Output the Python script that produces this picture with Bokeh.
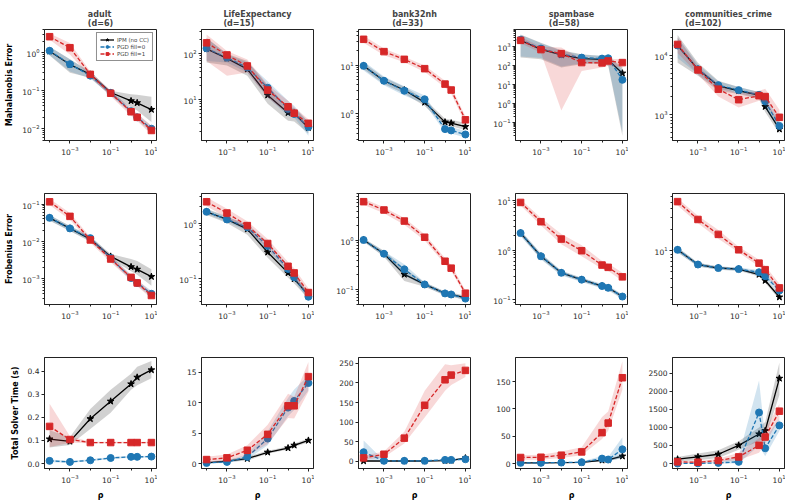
import math
from bokeh.plotting import figure
from bokeh.models import (FixedTicker, PrintfTickFormatter, Range1d, Legend, LegendItem)
from bokeh.layouts import column, row
from bokeh.embed import file_html
from bokeh.resources import INLINE

RHO = [1e-4, 1e-3, 1e-2, 1e-1, 1, 2, 10]
DATASETS = ["adult", "LifeExpectancy", "bank32nh", "spambase", "communities_crime"]
DIMS = [6, 15, 33, 58, 102]
METRIC_LABELS = ["Mahalanobis Error", "Frobenius Error", "Total Solver Time (s)"]
METHOD_LABELS = ["IPM (no CC)", "PGD fill=0", "PGD fill=1"]

# ---------------- Mahalanobis error (per dataset: adult, LifeExp, bank32nh, spambase, communities)
MAHA_IPM = [[1.10, 0.49, 0.27, 0.090, 0.054, 0.048, 0.032],
            [128, 79, 46, 12.4, 5.1, 5.0, 2.4],
            [9.7, 4.8, 3.1, 1.73, 0.68, 0.65, 0.55],
            [2140, 720, 365, 235, 215, 200, 40],
            [14700, 5800, 3040, 2510, 2120, 1350, 560]]
MAHA_IPM_LO = [[0.85, 0.30, 0.22, 0.075, 0.037, 0.030, 0.015],
               [64, 55, 33, 8, 3.4, 3.3, 1.8],
               [8.3, 4.1, 2.6, 1.45, 0.58, 0.56, 0.47],
               [265, 217, 80, 118, 130, 100, 0.02],
               [7500, 4500, 2500, 2200, 1800, 1100, 470]]
MAHA_IPM_HI = [[1.45, 0.68, 0.32, 0.10, 0.081, 0.079, 0.069],
               [222, 100, 69, 20, 6.7, 6.5, 3.2],
               [11.2, 5.6, 3.6, 2.0, 0.80, 0.76, 0.65],
               [4400, 1600, 640, 400, 320, 330, 80],
               [22000, 7500, 3700, 2900, 2400, 1800, 700]]
MAHA_PGD0 = [[1.13, 0.50, 0.25, 0.088, 0.029, 0.020, 0.010],
             [131, 82, 50, 18, 6.2, 4.8, 2.5],
             [9.7, 4.8, 3.0, 2.0, 0.49, 0.46, 0.38],
             [2300, 790, 400, 265, 235, 245, 18],
             [14700, 5800, 3120, 2570, 2140, 1660, 636]]
MAHA_PGD0_LO = [[0.88, 0.32, 0.21, 0.075, 0.025, 0.017, 0.008],
                [69, 64, 39, 11, 4.4, 4.0, 1.6],
                [7.8, 3.9, 2.4, 1.6, 0.42, 0.40, 0.33],
                [300, 250, 90, 130, 150, 120, 0.03],
                [9000, 4800, 2700, 2300, 1900, 1300, 520]]
MAHA_PGD0_HI = [[1.45, 0.68, 0.30, 0.10, 0.034, 0.024, 0.012],
                [222, 97, 64, 25, 9.3, 7.3, 3.2],
                [12, 5.9, 3.7, 2.4, 0.57, 0.54, 0.45],
                [4200, 1500, 600, 380, 330, 350, 60],
                [20000, 7000, 3600, 2900, 2400, 2100, 800]]
MAHA_PGD1 = [[2.65, 1.36, 0.27, 0.086, 0.028, 0.020, 0.009],
             [173, 94, 54, 16, 6.9, 5.0, 3.0],
             [34, 19, 13.2, 8.5, 4.1, 3.1, 0.76],
             [2140, 700, 430, 145, 140, 177, 145],
             [15300, 5660, 2670, 1770, 2070, 2000, 890]]
MAHA_PGD1_LO = [[2.2, 0.9, 0.23, 0.072, 0.022, 0.016, 0.007],
                [69, 33, 39, 11, 4.8, 4.4, 2.2],
                [29, 16, 11.5, 7.3, 3.5, 2.6, 0.64],
                [1500, 485, 0.43, 53, 80, 100, 80],
                [11000, 4800, 2000, 1300, 1700, 1600, 700]]
MAHA_PGD1_HI = [[3.2, 1.8, 0.32, 0.10, 0.034, 0.025, 0.012],
                [263, 115, 75, 21, 9.3, 6.7, 3.7],
                [40, 22, 15, 9.9, 4.8, 3.6, 0.9],
                [3300, 1000, 890, 218, 190, 230, 220],
                [20000, 6500, 3200, 2200, 2500, 2700, 1200]]

# ---------------- Frobenius error
FROB_IPM = [[0.043, 0.0224, 0.0115, 0.0040, 0.0021, 0.0018, 0.00115],
            [1.59, 1.16, 0.78, 0.30, 0.128, 0.10, 0.051],
            [1.03, 0.54, 0.205, 0.128, 0.084, 0.08, 0.068],
            [2.19, 0.75, 0.35, 0.255, 0.19, 0.175, 0.117],
            [10.4, 6.4, 5.7, 5.5, 4.6, 3.77, 2.18]]
FROB_IPM_LO = [[0.036, 0.019, 0.0098, 0.0034, 0.0016, 0.0013, 0.00066],
               [1.4, 1.0, 0.62, 0.24, 0.105, 0.083, 0.044],
               [0.95, 0.47, 0.15, 0.115, 0.076, 0.073, 0.062],
               [1.95, 0.67, 0.32, 0.235, 0.175, 0.16, 0.108],
               [9.6, 6.0, 5.4, 5.2, 4.3, 3.5, 2.0]]
FROB_IPM_HI = [[0.051, 0.026, 0.0135, 0.0046, 0.0034, 0.003, 0.0018],
               [1.8, 1.32, 0.9, 0.36, 0.15, 0.12, 0.058],
               [1.12, 0.62, 0.27, 0.142, 0.092, 0.088, 0.075],
               [2.45, 0.84, 0.38, 0.275, 0.205, 0.19, 0.126],
               [11.2, 6.8, 6.0, 5.8, 4.9, 4.05, 2.4]]
FROB_PGD0 = [[0.043, 0.0224, 0.0123, 0.0036, 0.00106, 0.00078, 0.00040],
             [1.59, 1.16, 0.84, 0.39, 0.151, 0.107, 0.048],
             [1.03, 0.54, 0.26, 0.128, 0.084, 0.08, 0.066],
             [2.19, 0.75, 0.35, 0.255, 0.19, 0.175, 0.117],
             [10.4, 6.4, 5.7, 5.5, 4.96, 4.35, 2.71]]
FROB_PGD0_LO = [[0.037, 0.019, 0.0105, 0.0031, 0.0009, 0.00066, 0.00033],
                [1.45, 1.05, 0.72, 0.33, 0.13, 0.093, 0.042],
                [0.96, 0.48, 0.2, 0.116, 0.077, 0.074, 0.06],
                [1.9, 0.65, 0.31, 0.23, 0.17, 0.155, 0.105],
                [9.5, 6.0, 5.4, 5.2, 4.6, 4.0, 2.4]]
FROB_PGD0_HI = [[0.05, 0.026, 0.0145, 0.0042, 0.00125, 0.00092, 0.00048],
                [1.75, 1.28, 0.97, 0.46, 0.175, 0.125, 0.055],
                [1.1, 0.61, 0.33, 0.14, 0.092, 0.087, 0.072],
                [2.5, 0.86, 0.39, 0.28, 0.21, 0.195, 0.13],
                [11.3, 6.8, 6.0, 5.8, 5.35, 4.7, 3.05]]
FROB_PGD1 = [[0.115, 0.047, 0.011, 0.0034, 0.0011, 0.00078, 0.00036],
             [2.4, 1.51, 0.90, 0.43, 0.168, 0.128, 0.057],
             [6.2, 4.2, 2.5, 1.17, 0.38, 0.275, 0.085],
             [9.0, 3.7, 1.66, 0.97, 0.50, 0.45, 0.29],
             [51, 28.3, 17.3, 10.4, 6.7, 5.4, 2.96]]
FROB_PGD1_LO = [[0.095, 0.038, 0.0092, 0.0028, 0.0009, 0.00064, 0.0003],
                [2.0, 1.25, 0.75, 0.36, 0.14, 0.105, 0.048],
                [5.4, 3.6, 2.1, 1.0, 0.33, 0.24, 0.075],
                [7.8, 3.1, 1.3, 0.75, 0.42, 0.38, 0.24],
                [45, 25, 15, 9.5, 6.0, 4.8, 2.6]]
FROB_PGD1_HI = [[0.14, 0.058, 0.013, 0.0041, 0.0013, 0.00095, 0.00044],
                [2.9, 1.8, 1.08, 0.52, 0.2, 0.155, 0.068],
                [7.1, 4.8, 2.9, 1.35, 0.44, 0.32, 0.097],
                [10.4, 4.4, 2.1, 1.25, 0.6, 0.54, 0.35],
                [57, 32, 20, 11.5, 7.5, 6.1, 3.4]]

# ---------------- Total solver time (s)
TIME_IPM = [[0.106, 0.096, 0.194, 0.27, 0.345, 0.374, 0.406],
            [0.1, 0.4, 0.8, 1.85, 2.55, 3.0, 3.8],
            [0.5, 0.5, 0.5, 0.5, 1.5, 2.0, 8],
            [1.2, 1.2, 1.5, 2.0, 6, 6.5, 13.4],
            [120, 184, 257, 505, 818, 910, 2362]]
TIME_IPM_LO = [[0.069, 0.08, 0.15, 0.22, 0.32, 0.34, 0.37],
               [0.0, 0.2, 0.5, 1.6, 2.3, 2.7, 3.5],
               [0, 0, 0, 0, 0.5, 1, 5],
               [0.5, 0.5, 1, 1.5, 4, 4.5, 10],
               [60, 90, 150, 380, 620, 700, 1900]]
TIME_IPM_HI = [[0.144, 0.115, 0.237, 0.32, 0.39, 0.42, 0.445],
               [0.3, 0.6, 1.1, 2.1, 2.8, 3.3, 4.1],
               [1, 1, 1, 1, 2.5, 3, 11],
               [2, 2, 2, 2.5, 8, 8.5, 17],
               [180, 280, 370, 620, 1000, 1150, 2800]]
TIME_PGD0 = [[0.0115, 0.007, 0.014, 0.024, 0.029, 0.029, 0.030],
             [0.1, 0.27, 1.09, 4.1, 9.2, 10.3, 13.25],
             [23, 1, 1, 1, 3.4, 3.4, 5],
             [1.2, 1.2, 1.8, 2.4, 9, 7.3, 26],
             [0, 5, 18, 46, 1415, 423, 1057]]
TIME_PGD0_LO = [[0.006, 0.003, 0.01, 0.02, 0.025, 0.025, 0.026],
                [0.0, 0.1, 0.7, 3.0, 7.8, 8.8, 12.0],
                [5, 0, 0, 0, 1, 1, 2],
                [0.5, 0.5, 1, 1.5, 5, 4, 10],
                [0, 0, 0, 0, 500, 200, 900]]
TIME_PGD0_HI = [[0.017, 0.011, 0.018, 0.028, 0.033, 0.033, 0.034],
                [0.3, 0.5, 1.5, 5.3, 10.8, 12.2, 14.5],
                [53, 2, 2, 2, 6, 6, 9],
                [2, 2, 2.5, 3.5, 14, 12, 48],
                [20, 20, 40, 200, 2300, 700, 1250]]
TIME_PGD1 = [[0.161, 0.104, 0.091, 0.091, 0.091, 0.091, 0.091],
             [0.65, 0.93, 2.18, 4.8, 9.5, 9.5, 14.3],
             [8.5, 17.8, 59, 143, 208, 220, 232],
             [11, 11.5, 15.2, 21.3, 56.5, 74, 157],
             [46, 37, 83, 184, 505, 735, 1452]]
TIME_PGD1_LO = [[0.072, 0.09, 0.088, 0.088, 0.088, 0.088, 0.088],
                [0.2, 0.4, 1.3, 3.2, 7.5, 7.4, 11.8],
                [3, 10, 45, 112, 180, 195, 215],
                [7, 7, 10, 15, 45, 60, 135],
                [20, 10, 40, 100, 300, 550, 1250]]
TIME_PGD1_HI = [[0.259, 0.118, 0.094, 0.094, 0.094, 0.094, 0.094],
                [1.1, 1.5, 3.0, 6.4, 11.5, 11.0, 16.7],
                [14, 25, 75, 180, 248, 245, 250],
                [15, 16, 22, 30, 85, 95, 187],
                [80, 70, 130, 300, 700, 950, 1650]]

# axis ranges / ticks (layout)
YRANGE_MAHA = [(0.0049, 4.1), (1.26, 339), (0.286, 54), (0.0115, 8000), (360, 27400)]
YRANGE_FROB = [(2.07e-4, 0.192), (0.0348, 3.38), (0.05, 9.1), (0.081, 13.6), (1.71, 66.7)]
YRANGE_TIME = [(-0.0216, 0.46), (-0.82, 17.45), (-18.6, 265), (-9.1, 194), (-138, 2941)]
TIME_TICKS = [[0, 0.1, 0.2, 0.3, 0.4], [0, 5, 10, 15], [0, 50, 100, 150, 200, 250],
              [0, 50, 100, 150], [0, 500, 1000, 1500, 2000, 2500]]
TIME_FMT = ["%.1f", "%d", "%d", "%d", "%d"]
X_MAJOR = [1e-3, 1e-1, 10]
X_MINOR = [1e-4, 1e-2, 1]

SERIES = [
    [(MAHA_IPM, MAHA_IPM_LO, MAHA_IPM_HI), (MAHA_PGD0, MAHA_PGD0_LO, MAHA_PGD0_HI), (MAHA_PGD1, MAHA_PGD1_LO, MAHA_PGD1_HI)],
    [(FROB_IPM, FROB_IPM_LO, FROB_IPM_HI), (FROB_PGD0, FROB_PGD0_LO, FROB_PGD0_HI), (FROB_PGD1, FROB_PGD1_LO, FROB_PGD1_HI)],
    [(TIME_IPM, TIME_IPM_LO, TIME_IPM_HI), (TIME_PGD0, TIME_PGD0_LO, TIME_PGD0_HI), (TIME_PGD1, TIME_PGD1_LO, TIME_PGD1_HI)],
]
YRANGES = [YRANGE_MAHA, YRANGE_FROB, YRANGE_TIME]

COLORS = ["black", "#1f77b4", "#d62728"]
BAND_ALPHA = [0.18, 0.2, 0.18]
MARKERS = ["star", "circle", "square"]
MSIZE = [7, 7, 6.5]
DASH = ["solid", "4 2", "4 2"]

FONT = "DejaVu Sans"
ROW_H = [170, 164, 168]
ROW_TOP = [29, 23, 23]
ROW_BOTTOM = [30, 30, 34]


def log_ticks(lo, hi):
    k0, k1 = math.floor(math.log10(lo)), math.ceil(math.log10(hi))
    major = [10.0 ** k for k in range(k0, k1 + 1) if lo <= 10.0 ** k <= hi]
    minor = [m * 10.0 ** k for k in range(k0, k1 + 1) for m in range(2, 10) if lo <= m * 10.0 ** k <= hi]
    return major, minor


def style_axis(ax):
    ax.major_tick_in = 0
    ax.major_tick_out = 3
    ax.minor_tick_in = 0
    ax.minor_tick_out = 2
    ax.axis_line_color = "#222222"
    ax.major_tick_line_color = "#222222"
    ax.minor_tick_line_color = "#222222"
    ax.major_label_text_font = FONT
    ax.major_label_text_font_size = "7.5px"
    ax.major_label_text_color = "#262626"
    ax.major_label_standoff = 2
    ax.axis_label_text_font = FONT
    ax.axis_label_text_font_size = "8px"
    ax.axis_label_text_font_style = "bold"
    ax.axis_label_text_color = "black"
    ax.axis_label_standoff = 5


rows = []
for r in range(3):
    figs = []
    for c in range(5):
        is_log = r < 2
        ylo, yhi = YRANGES[r][c]
        p = figure(width=157, height=ROW_H[r],
                   x_axis_type="log", y_axis_type="log" if is_log else "linear",
                   x_range=Range1d(10 ** -4.25, 10 ** 1.25), y_range=Range1d(ylo, yhi),
                   output_backend="svg", toolbar_location=None,
                   title=(f"{DATASETS[c]}\n(d={DIMS[c]})" if r == 0 else None),
                   min_border_left=44, min_border_right=1,
                   min_border_top=ROW_TOP[r], min_border_bottom=ROW_BOTTOM[r])
        p.background_fill_color = "white"
        p.border_fill_color = "white"
        p.outline_line_color = "#222222"
        p.outline_line_width = 1
        p.xgrid.visible = False
        p.ygrid.visible = False
        if r == 0:
            p.title.align = "center"
            p.title.text_font = FONT
            p.title.text_font_size = "8px"
            p.title.text_font_style = "bold"
            p.title.standoff = 4
        p.xaxis.ticker = FixedTicker(ticks=X_MAJOR, minor_ticks=X_MINOR)
        if is_log:
            major, minor = log_ticks(ylo, yhi)
            p.yaxis.ticker = FixedTicker(ticks=major, minor_ticks=minor)
        else:
            p.yaxis.ticker = FixedTicker(ticks=TIME_TICKS[c])
            p.yaxis.formatter = PrintfTickFormatter(format=TIME_FMT[c])
        for ax in p.axis:
            style_axis(ax)
        if c == 0:
            p.yaxis.axis_label = METRIC_LABELS[r]
        if r == 2:
            p.xaxis.axis_label = "ρ"

        items = []
        for m in range(3):
            mean, lo, hi = (s[c] for s in SERIES[r][m])
            p.varea(x=RHO, y1=lo, y2=hi, fill_color=COLORS[m], fill_alpha=BAND_ALPHA[m])
            ln = p.line(RHO, mean, line_color=COLORS[m], line_width=1.3, line_dash=DASH[m])
            sc = p.scatter(RHO, mean, marker=MARKERS[m], size=MSIZE[m],
                           fill_color=COLORS[m], line_color=COLORS[m])
            items.append(LegendItem(label=METHOD_LABELS[m], renderers=[ln, sc]))
        if r == 0 and c == 0:
            leg = Legend(items=items, location="top_right")
            leg.label_text_font = FONT
            leg.label_text_font_size = "5.5px"
            leg.label_height = 6
            leg.glyph_height = 7
            leg.glyph_width = 14
            leg.spacing = 0
            leg.padding = 3
            leg.margin = 3
            leg.label_standoff = 3
            leg.border_line_color = "#222222"
            leg.border_line_width = 0.8
            leg.background_fill_alpha = 0.9
            p.add_layout(leg)
        figs.append(p)
    rows.append(row(*figs))

layout = column(*rows)
open("out.html", "w").write(file_html(layout, INLINE))
